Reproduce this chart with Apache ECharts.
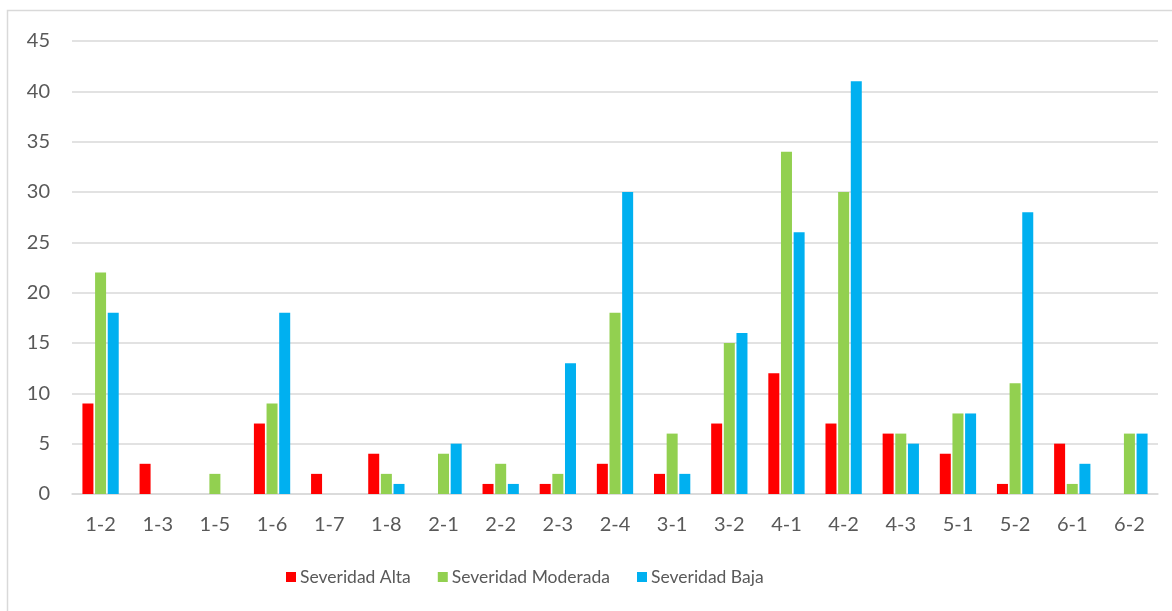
<!DOCTYPE html>
<html>
<head>
<meta charset="utf-8">
<script src="https://cdn.jsdelivr.net/npm/echarts@6/dist/echarts.min.js"></script>
<style>html,body{margin:0;padding:0;background:#fff;}#c{width:1172px;height:611px;}</style>
</head>
<body>
<div id="c"></div>
<script>
const categories = ['1-2','1-3','1-5','1-6','1-7','1-8','2-1','2-2','2-3','2-4','3-1','3-2','4-1','4-2','4-3','5-1','5-2','6-1','6-2'];
const alta =     [9, 3, 0, 7, 2, 4, 0, 1, 1, 3, 2, 7, 12, 7, 6, 4, 1, 5, 0];
const moderada = [22, 0, 2, 9, 0, 2, 4, 3, 2, 18, 6, 15, 34, 30, 6, 8, 11, 1, 6];
const baja =     [18, 0, 0, 18, 0, 1, 5, 1, 13, 30, 2, 16, 26, 41, 5, 8, 28, 3, 6];
const seriesNames = ['Severidad Alta', 'Severidad Moderada', 'Severidad Baja'];
const colors = ['#FF0000', '#92D050', '#00B0F0'];

const chart = echarts.init(document.getElementById('c'), null, {renderer: 'canvas'});
const font = 'Lato, "Open Sans", sans-serif';
const mk = (name, data, color) => ({
  name, type: 'bar', data, barWidth: 11, barGap: '15%',
  itemStyle: {color},
  emphasis: {disabled: true}
});
chart.setOption({
  animation: false,
  color: colors,
  graphic: [{
    type: 'rect', shape: {x: 7.5, y: 10.5, width: 1200, height: 700},
    style: {fill: 'none', stroke: '#D9D9D9', lineWidth: 1.5}, silent: true
  }],
  grid: {left: 72, right: 14, top: 41, bottom: 117},
  legend: {
    bottom: 20, left: 281, itemWidth: 10, itemHeight: 10, itemGap: 27,
    icon: 'rect',
    textStyle: {color: '#595959', fontSize: 17.5, fontFamily: font, padding: [0, 0, 0, -1]},
    data: seriesNames
  },
  xAxis: {
    type: 'category', data: categories,
    axisLine: {lineStyle: {color: '#D9D9D9', width: 1.5}},
    axisTick: {show: false},
    axisLabel: {color: '#595959', fontSize: 20, fontFamily: font, margin: 21}
  },
  yAxis: {
    type: 'value', min: 0, max: 45, interval: 5,
    axisLine: {show: false}, axisTick: {show: false},
    splitLine: {lineStyle: {color: '#D9D9D9', width: 1.5}},
    axisLabel: {color: '#595959', fontSize: 20, fontFamily: font, margin: 22}
  },
  series: [mk(seriesNames[0], alta, colors[0]), mk(seriesNames[1], moderada, colors[1]), mk(seriesNames[2], baja, colors[2])]
});
</script>
</body>
</html>
